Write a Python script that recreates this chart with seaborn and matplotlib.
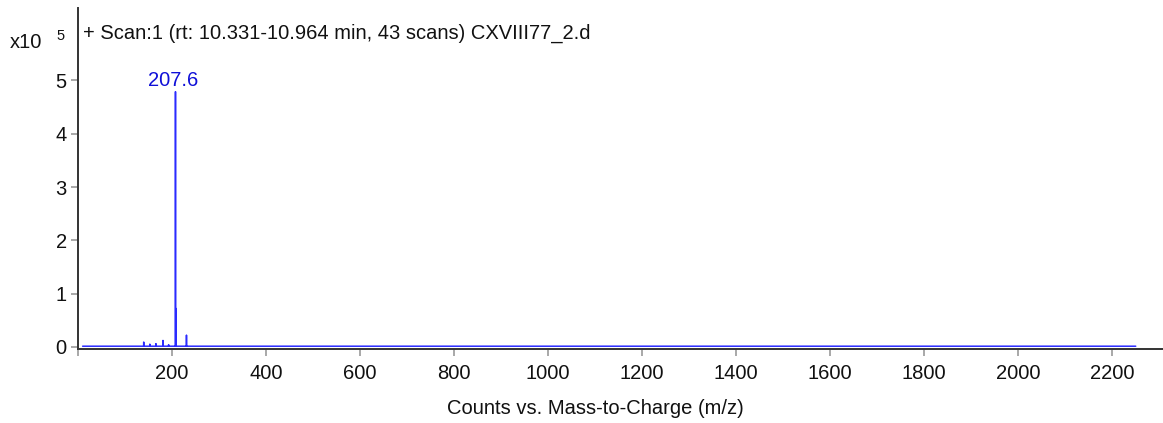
import numpy as np
import pandas as pd
import seaborn as sns
import matplotlib.pyplot as plt

# Centroid peaks of the averaged scan (m/z, counts in units of 1e5)
peak_mz = [140.0, 153.0, 166.0, 181.0, 193.0, 207.6, 208.6, 231.0]
peak_int = [0.09, 0.05, 0.06, 0.12, 0.04, 4.79, 0.72, 0.22]

# Acquisition range and baseline level
scan_start = 10.0
scan_end = 2251.0
baseline = 0.012

labelled_mz = 207.6
title_text = "+ Scan:1 (rt: 10.331-10.964 min, 43 scans) CXVIII77_2.d"
xlabel_text = "Counts vs. Mass-to-Charge (m/z)"
x_ticks = [0, 200, 400, 600, 800, 1000, 1200, 1400, 1600, 1800, 2000, 2200]
x_ticklabels = ["", "200", "400", "600", "800", "1000", "1200", "1400",
                "1600", "1800", "2000", "2200"]
y_ticks = [0, 1, 2, 3, 4, 5]

sns.set_theme(style="white")
plt.rcParams["font.family"] = ["Liberation Sans", "DejaVu Sans"]

FS = 14.5

# Build a stick profile: each peak rises from the baseline and returns to it
mz_pts, int_pts = [scan_start], [baseline]
for mz, h in zip(peak_mz, peak_int):
    mz_pts += [mz - 0.05, mz, mz + 0.05]
    int_pts += [baseline, h, baseline]
mz_pts.append(scan_end)
int_pts.append(baseline)
profile = pd.DataFrame({"mz": mz_pts, "counts": int_pts})

fig = plt.figure(figsize=(11.63, 4.23), dpi=100)
ax = fig.add_axes([0.067, 0.175, 0.933, 0.806])

blue = "#2b2bff"
sns.lineplot(data=profile, x="mz", y="counts", sort=False, color=blue,
             linewidth=1.1, ax=ax, estimator=None)

ax.set_xlim(0, 2309)
ax.set_ylim(-0.04, 6.36)
ax.set_xticks(x_ticks)
ax.set_xticklabels(x_ticklabels)
ax.set_yticks(y_ticks)
ax.set_xlabel("")
ax.set_ylabel("")

for side in ("top", "right"):
    ax.spines[side].set_visible(False)
for side in ("left", "bottom"):
    ax.spines[side].set_color("#333333")
    ax.spines[side].set_linewidth(1.4)

ax.tick_params(axis="both", which="major", direction="out", length=5,
               width=1.2, color="#999999", labelsize=FS, labelcolor="#111111",
               bottom=True, left=True, pad=3)
ax.tick_params(axis="x", pad=6)

# Annotate the base peak
base_h = peak_int[peak_mz.index(labelled_mz)]
ax.annotate(f"{labelled_mz:.1f}", xy=(labelled_mz, base_h), xytext=(-2, 1),
            textcoords="offset points", ha="center", va="bottom",
            color="#1010d8", fontsize=FS)

ax.text(0.005, 0.927, title_text, transform=ax.transAxes, ha="left",
        va="center", fontsize=FS, color="#111111")

fig.text(0.0086, 1 - 42 / 423, "x10", ha="left", va="center",
         fontsize=FS, color="#111111")
fig.text(0.0485, 1 - 36 / 423, "5", ha="left", va="center",
         fontsize=10.5, color="#111111")
fig.text(595 / 1163, 1 - 408 / 423, xlabel_text, ha="center", va="center",
         fontsize=FS, color="#111111")

fig.savefig("out.png", dpi=100)
